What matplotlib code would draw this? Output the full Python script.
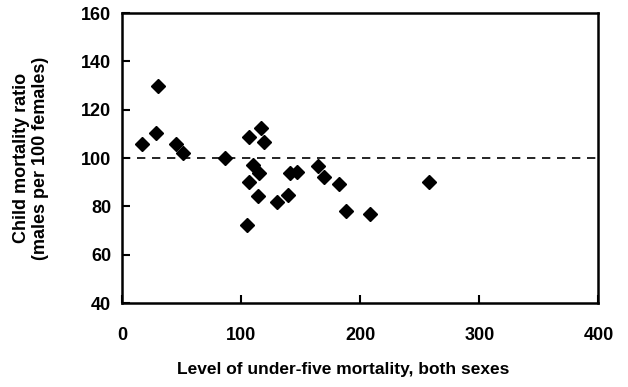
import matplotlib.pyplot as plt

plt.rcParams['font.family'] = ['Liberation Sans', 'DejaVu Sans']
plt.rcParams['font.weight'] = 'bold'

# Under-five mortality level (both sexes) and male/female child mortality ratio
u5_mortality = [16, 30, 28, 45, 51, 86, 106, 116, 119, 110, 115, 106, 114, 105,
                130, 139, 141, 147, 164, 169, 182, 188, 208, 258]
sex_ratio = [105.8, 129.7, 110.4, 105.8, 102, 100, 108.6, 112.3, 106.5, 97.2, 93.7, 90.2, 84.1, 72.2,
             82, 84.8, 93.7, 94.2, 96.8, 92, 89.2, 77.9, 76.8, 90.2]

x_ticks = [0, 100, 200, 300, 400]
y_ticks = [40, 60, 80, 100, 120, 140, 160]

fig = plt.figure(figsize=(6.28, 3.87), dpi=100)
ax = fig.add_axes([0.195, 0.217, 0.758, 0.749])

ax.axhline(100, color='black', linestyle=(0, (5, 4)), linewidth=1.2, zorder=1)
ax.plot(u5_mortality, sex_ratio, linestyle='none', marker='D', markersize=7,
        color='black', zorder=2)

ax.set_xlim(0, 400)
ax.set_ylim(40, 160)
ax.set_xticks(x_ticks)
ax.set_yticks(y_ticks)
ax.tick_params(direction='in', length=6, width=1.5, labelsize=13)
ax.tick_params(axis='x', pad=17)
ax.tick_params(axis='y', pad=8)
for spine in ax.spines.values():
    spine.set_linewidth(1.8)

ax.set_xlabel('Level of under-five mortality, both sexes', fontsize=12.5,
              fontweight='bold')
ax.xaxis.set_label_coords(0.464, -0.205)
ax.set_ylabel('Child mortality ratio\n(males per 100 females)', fontsize=13,
              fontweight='bold', linespacing=1.1)
ax.yaxis.set_label_coords(-0.155, 0.5)

fig.savefig('out.png', dpi=100)
